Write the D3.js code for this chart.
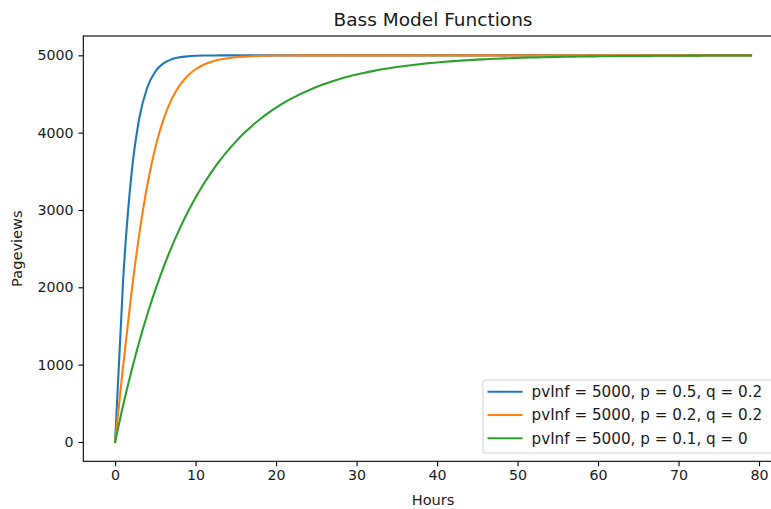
<!DOCTYPE html>
<html>
<head>
<meta charset="utf-8">
<script src="https://cdn.jsdelivr.net/npm/d3@7"></script>
<style>
  html, body { margin: 0; padding: 0; background: #fff; }
  svg { display: block; font-family: "DejaVu Sans", sans-serif; }
</style>
</head>
<body>
<svg id="chart" width="771" height="509"></svg>
<script>
// ---------- data ----------
const hours = [0,1,2,3,4,5,6,7,8,9,10,11,12,13,14,15,16,17,18,19,20,21,22,23,24,25,26,27,28,29,30,31,32,33,34,35,36,37,38,39,40,41,42,43,44,45,46,47,48,49,50,51,52,53,54,55,56,57,58,59,60,61,62,63,64,65,66,67,68,69,70,71,72,73,74,75,76,77,78,79];

const seriesNames = [
  "pvInf = 5000, p = 0.5, q = 0.2",
  "pvInf = 5000, p = 0.2, q = 0.2",
  "pvInf = 5000, p = 0.1, q = 0"
];
const seriesColors = ["#1f77b4", "#ff7f0e", "#2ca02c"];

const bluePv = [0,2100,3429,4183,4584,4791,4896,4948,4974,4987,4994,4997,4998,4999,5000,5000,5000,5000,5000,5000,5000,5000,5000,5000,5000,5000,5000,5000,5000,5000,5000,5000,5000,5000,5000,5000,5000,5000,5000,5000,5000,5000,5000,5000,5000,5000,5000,5000,5000,5000,5000,5000,5000,5000,5000,5000,5000,5000,5000,5000,5000,5000,5000,5000,5000,5000,5000,5000,5000,5000,5000,5000,5000,5000,5000,5000,5000,5000,5000,5000];

const orangePv = [0,987,1900,2685,3320,3808,4168,4427,4608,4734,4820,4879,4918,4945,4963,4975,4983,4989,4993,4995,4997,4998,4998,4999,4999,4999,5000,5000,5000,5000,5000,5000,5000,5000,5000,5000,5000,5000,5000,5000,5000,5000,5000,5000,5000,5000,5000,5000,5000,5000,5000,5000,5000,5000,5000,5000,5000,5000,5000,5000,5000,5000,5000,5000,5000,5000,5000,5000,5000,5000,5000,5000,5000,5000,5000,5000,5000,5000,5000,5000];

const greenPv = [0,476,906,1296,1648,1967,2256,2517,2753,2967,3161,3336,3494,3637,3767,3884,3991,4087,4174,4252,4323,4388,4446,4499,4546,4590,4629,4664,4696,4725,4751,4775,4796,4816,4833,4849,4863,4876,4888,4899,4908,4917,4925,4932,4939,4944,4950,4955,4959,4963,4966,4970,4972,4975,4977,4980,4982,4983,4985,4986,4988,4989,4990,4991,4992,4992,4993,4994,4994,4995,4995,4996,4996,4997,4997,4997,4997,4998,4998,4998];

const xTicks = [0,10,20,30,40,50,60,70,80];
const yTicks = [0,1000,2000,3000,4000,5000];

const titleText = "Bass Model Functions";
const xLabel = "Hours";
const yLabel = "Pageviews";

// ---------- layout ----------
(function () {
const svg = d3.select("#chart");
const pLeft = 83.3, pRight = 782.8, pTop = 36, pBottom = 461.3;

const x = d3.scaleLinear().domain([-3.95, 82.95]).range([pLeft, pRight]);
const y = d3.scaleLinear().domain([-250, 5250]).range([pBottom, pTop]);

const tickFont = 14.2;
const labelFont = 14.6;
const legendFont = 15.2;
const textColor = "#1a1a1a";

const allSeries = [bluePv, orangePv, greenPv];
const line = d3.line()
  .x((d, i) => x(hours[i]))
  .y(d => y(d))
  .curve(d3.curveMonotoneX);

svg.append("clipPath").attr("id", "clip")
  .append("rect").attr("x", pLeft).attr("y", pTop)
  .attr("width", pRight - pLeft).attr("height", pBottom - pTop);

const plot = svg.append("g").attr("clip-path", "url(#clip)");
allSeries.forEach((s, k) => {
  plot.append("path")
    .datum(s)
    .attr("d", line)
    .attr("fill", "none")
    .attr("stroke", seriesColors[k])
    .attr("stroke-width", 2.1)
    .attr("stroke-linejoin", "round")
    .attr("stroke-linecap", "square");
});

const xAxis = d3.axisBottom(x).tickValues(xTicks).tickSize(4.9).tickPadding(4.2).tickFormat(d3.format("d"));
const yAxis = d3.axisLeft(y).tickValues(yTicks).tickSize(4.9).tickPadding(4.9).tickFormat(d3.format("d"));

const gx = svg.append("g").attr("transform", `translate(0,${pBottom})`).call(xAxis);
const gy = svg.append("g").attr("transform", `translate(${pLeft},0)`).call(yAxis);
[gx, gy].forEach(g => {
  g.select(".domain").remove();
  g.selectAll(".tick line").attr("stroke", "#000").attr("stroke-width", 1.1);
  g.selectAll(".tick text").attr("fill", textColor)
    .style("font-size", tickFont + "px")
    .style("font-family", "DejaVu Sans, sans-serif");
});

svg.append("rect")
  .attr("x", pLeft).attr("y", pTop)
  .attr("width", pRight - pLeft).attr("height", pBottom - pTop)
  .attr("fill", "none").attr("stroke", "#000").attr("stroke-width", 1.1);

svg.append("text")
  .attr("x", (pLeft + pRight) / 2).attr("y", 25.8)
  .attr("text-anchor", "middle")
  .attr("fill", textColor)
  .style("font-size", "18.5px")
  .text(titleText);

svg.append("text")
  .attr("x", (pLeft + pRight) / 2).attr("y", 505)
  .attr("text-anchor", "middle")
  .attr("fill", textColor)
  .style("font-size", labelFont + "px")
  .text(xLabel);

svg.append("text")
  .attr("transform", `translate(21.5,${(pTop + pBottom) / 2}) rotate(-90)`)
  .attr("text-anchor", "middle")
  .attr("fill", textColor)
  .style("font-size", labelFont + "px")
  .text(yLabel);

const legX = 483, legY = 380, legW = 292, legH = 73;
const leg = svg.append("g");
leg.append("rect")
  .attr("x", legX).attr("y", legY).attr("width", legW).attr("height", legH)
  .attr("rx", 3).attr("ry", 3)
  .attr("fill", "#fff").attr("fill-opacity", 0.8)
  .attr("stroke", "#d6d6d6").attr("stroke-width", 1.1);

seriesNames.forEach((name, k) => {
  const ry = legY + 11.7 + k * 23.3;
  leg.append("line")
    .attr("x1", legX + 4.5).attr("x2", legX + 39.5)
    .attr("y1", ry).attr("y2", ry)
    .attr("stroke", seriesColors[k]).attr("stroke-width", 2.1);
  leg.append("text")
    .attr("x", legX + 48.5).attr("y", ry)
    .attr("dy", "0.35em")
    .attr("fill", textColor)
    .style("font-size", legendFont + "px")
    .text(name);
});
})();
</script>
</body>
</html>
